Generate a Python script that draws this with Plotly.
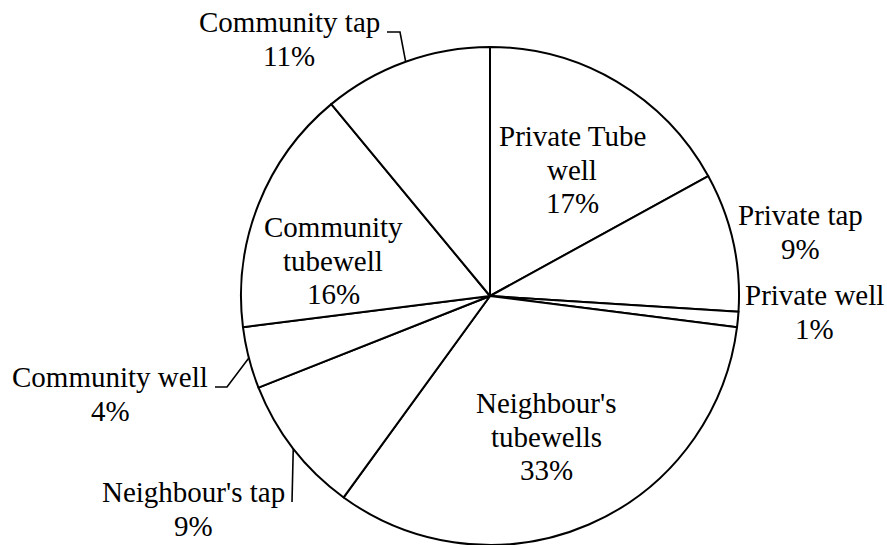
import math
import plotly.graph_objects as go

# Drinking-water sources (share of households, %)
sources = ["Private Tube well", "Private tap", "Private well", "Neighbour's tubewells",
           "Neighbour's tap", "Community well", "Community tubewell", "Community tap"]
shares = [17, 9, 1, 33, 9, 4, 16, 11]

# Label text lines for each source (name split over lines, then the share)
name_lines = {
    "Private Tube well": ["Private Tube", "well"],
    "Private tap": ["Private tap"],
    "Private well": ["Private well"],
    "Neighbour's tubewells": ["Neighbour's", "tubewells"],
    "Neighbour's tap": ["Neighbour's tap"],
    "Community well": ["Community well"],
    "Community tubewell": ["Community", "tubewell"],
    "Community tap": ["Community tap"],
}

W, H = 887, 545
CX, CY, R = 490, 296, 249          # pie centre and radius in pixels
FONT = "Times New Roman, Liberation Serif, serif"
FS = 29
LINE_GAP = 33.5

# Label anchor: centre x and first-line baseline y (pixels)
label_pos = {
    "Private Tube well": (572, 146),
    "Private tap": (800, 225),
    "Private well": (814, 305),
    "Neighbour's tubewells": (546, 413),
    "Neighbour's tap": (193, 502),
    "Community well": (110, 387),
    "Community tubewell": (333, 237),
    "Community tap": (289, 32),
}

# Leader lines: label-side points (pixels); the last point is on the rim at the slice middle
leader_start = {
    "Community tap": [(387, 32), (400, 32)],
    "Community well": [(215, 387), (227, 387)],
    "Neighbour's tap": [(292, 502)],
}


def px(x):
    return x / W


def py(y):
    return 1 - y / H


fig = go.Figure(go.Pie(
    labels=sources,
    values=shares,
    sort=False,
    direction="clockwise",
    rotation=0,
    textinfo="none",
    hoverinfo="label+percent",
    marker=dict(colors=["white"] * len(sources), line=dict(color="black", width=2)),
    domain=dict(x=[px(CX - R), px(CX + R)], y=[py(CY + R), py(CY - R)]),
    showlegend=False,
))

annotations = []
total = sum(shares)
cum = 0
mid_angle = {}
for name, v in zip(sources, shares):
    mid_angle[name] = (cum + v / 2) / total * 360
    cum += v

for name, v in zip(sources, shares):
    lines = name_lines[name] + [f"{v}%"]
    x0, y0 = label_pos[name]
    for i, line in enumerate(lines):
        base = y0 + i * LINE_GAP
        annotations.append(dict(
            x=px(x0), y=py(base - FS * 0.34), xref="paper", yref="paper",
            text=line, showarrow=False, xanchor="center", yanchor="middle",
            font=dict(family=FONT, size=FS, color="black"),
        ))

shapes = []
for name, pts in leader_start.items():
    a = math.radians(mid_angle[name])
    rim = (CX + R * math.sin(a), CY - R * math.cos(a))
    path_pts = pts + [rim]
    path = "M " + " L ".join(f"{px(x):.5f},{py(y):.5f}" for x, y in path_pts)
    shapes.append(dict(type="path", path=path, xref="paper", yref="paper",
                       line=dict(color="black", width=1.6)))

fig.update_layout(
    width=W, height=H,
    margin=dict(l=0, r=0, t=0, b=0),
    paper_bgcolor="white", plot_bgcolor="white",
    font=dict(family=FONT),
    annotations=annotations, shapes=shapes,
)

fig.write_html("out.html")
